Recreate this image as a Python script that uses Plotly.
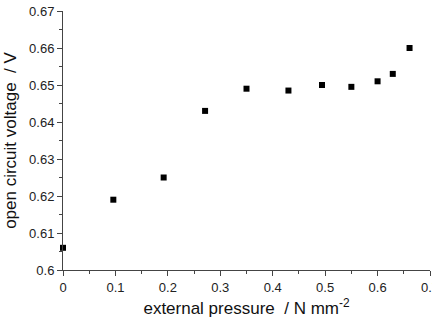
import plotly.graph_objects as go

pressure = [0.0, 0.096, 0.192, 0.271, 0.350, 0.430, 0.494, 0.550, 0.600, 0.629, 0.661]
voltage = [0.606, 0.619, 0.625, 0.643, 0.649, 0.6485, 0.650, 0.6495, 0.651, 0.653, 0.660]

x_ticks = [0, 0.1, 0.2, 0.3, 0.4, 0.5, 0.6, 0.7]
y_ticks = [0.6, 0.61, 0.62, 0.63, 0.64, 0.65, 0.66, 0.67]

x_title = "external pressure  / N mm<sup>-2</sup>"
y_title = "open circuit voltage  / V"

fig = go.Figure()
fig.add_trace(go.Scatter(
    x=pressure, y=voltage, mode="markers",
    marker=dict(symbol="square", size=6, color="black"),
    cliponaxis=False, showlegend=False,
))

font_family = "Liberation Sans, Arial"
axis_common = dict(
    showgrid=False, zeroline=False, showline=True, linecolor="#444", linewidth=1,
    ticks="outside", ticklen=5, tickwidth=1, tickcolor="#444",
    tickfont=dict(family=font_family, size=13, color="#222"),
    minor=dict(ticks="outside", ticklen=3, tickwidth=1, tickcolor="#444", showgrid=False),
    automargin=False, ticklabeloverflow="allow",
)

fig.update_xaxes(
    range=[0, 0.7], tickmode="array", tickvals=x_ticks,
    ticktext=[f"{v:g}" for v in x_ticks],
    title=dict(text=x_title, font=dict(family=font_family, size=17, color="#111"), standoff=8),
    minor_dtick=0.05, minor_tick0=0,
    **axis_common,
)
fig.update_yaxes(
    range=[0.6, 0.67], tickmode="array", tickvals=y_ticks,
    ticktext=[f"{v:g}" for v in y_ticks],
    title=dict(text=y_title, font=dict(family=font_family, size=17, color="#111"), standoff=8),
    minor_dtick=0.005, minor_tick0=0.6,
    **axis_common,
)

fig.update_layout(
    width=432, height=322,
    margin=dict(l=63, r=2, t=11, b=52),
    plot_bgcolor="white", paper_bgcolor="white",
)

fig.write_html("out.html")
